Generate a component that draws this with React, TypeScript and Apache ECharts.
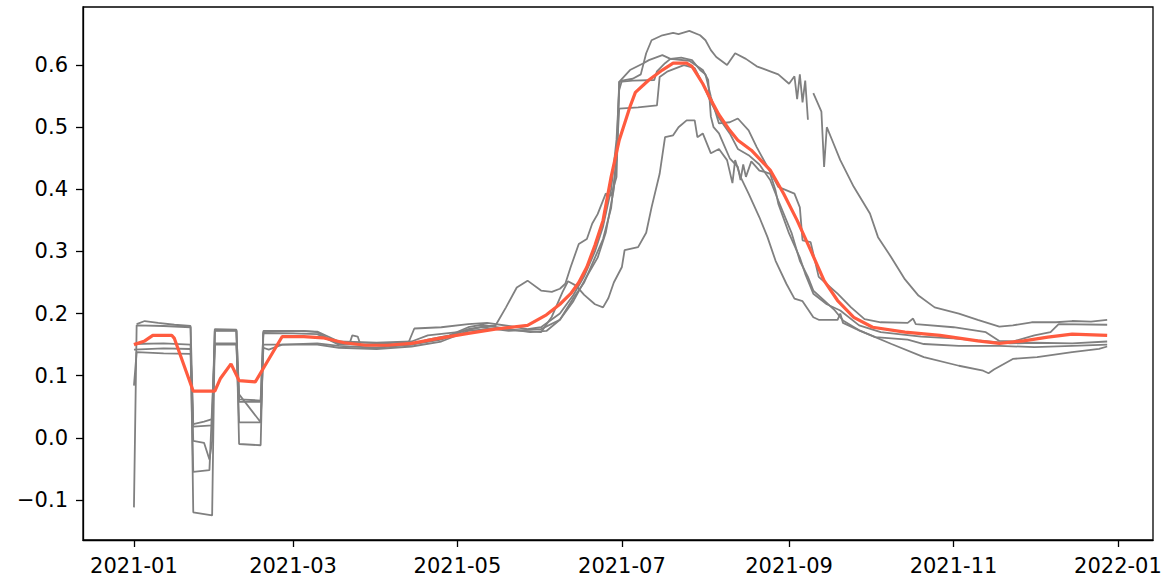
import React, { useEffect, useRef } from 'react';
import * as echarts from 'echarts';

const xTickLabels = ['2021-01', '2021-03', '2021-05', '2021-07', '2021-09', '2021-11', '2022-01'];
const yTicks = [-0.1, 0.0, 0.1, 0.2, 0.3, 0.4, 0.5, 0.6];

const lineA: [string, number | null][] = [
  ['2021-01-02', 0.183], ['2021-01-05', 0.188], ['2021-01-10', 0.185], ['2021-01-16', 0.182], ['2021-01-22', 0.180],
  ['2021-01-23', 0.022], ['2021-01-27', 0.026], ['2021-01-30', 0.030],
  ['2021-01-31', 0.175], ['2021-02-08', 0.174],
  ['2021-02-09', 0.062], ['2021-02-17', 0.060],
  ['2021-02-18', 0.170], ['2021-02-24', 0.171], ['2021-03-05', 0.172], ['2021-03-10', 0.170], ['2021-03-14', 0.160],
  ['2021-03-18', 0.152], ['2021-03-25', 0.150], ['2021-04-05', 0.152], ['2021-04-13', 0.155], ['2021-04-15', 0.176],
  ['2021-04-25', 0.178], ['2021-05-05', 0.183], ['2021-05-12', 0.185], ['2021-05-20', 0.180], ['2021-05-27', 0.175],
  ['2021-06-01', 0.178], ['2021-06-08', 0.200], ['2021-06-13', 0.230], ['2021-06-17', 0.260], ['2021-06-21', 0.300],
  ['2021-06-24', 0.340], ['2021-06-27', 0.400], ['2021-06-29', 0.480], ['2021-06-30', 0.560], ['2021-07-01', 0.575],
  ['2021-07-05', 0.578], ['2021-07-08', 0.585], ['2021-07-10', 0.619], ['2021-07-12', 0.640], ['2021-07-16', 0.648],
  ['2021-07-20', 0.652], ['2021-07-22', 0.650], ['2021-07-26', 0.655], ['2021-07-30', 0.648], ['2021-08-01', 0.640],
  ['2021-08-03', 0.624], ['2021-08-05', 0.613], ['2021-08-09', 0.600], ['2021-08-12', 0.619], ['2021-08-16', 0.610],
  ['2021-08-20', 0.598], ['2021-08-25', 0.590], ['2021-08-28', 0.585], ['2021-09-01', 0.570], ['2021-09-03', 0.582],
  ['2021-09-04', 0.545], ['2021-09-05', 0.585], ['2021-09-06', 0.540], ['2021-09-07', 0.575], ['2021-09-08', 0.512],
  ['2021-09-09', null], ['2021-09-10', 0.555], ['2021-09-12', 0.535], ['2021-09-13', 0.525], ['2021-09-14', 0.436],
  ['2021-09-15', 0.500], ['2021-09-17', 0.479], ['2021-09-20', 0.447], ['2021-09-25', 0.404], ['2021-10-01', 0.361],
  ['2021-10-04', 0.323], ['2021-10-09', 0.290], ['2021-10-14', 0.255], ['2021-10-19', 0.229], ['2021-10-25', 0.210],
  ['2021-11-03', 0.200], ['2021-11-10', 0.190], ['2021-11-18', 0.179], ['2021-11-23', 0.181], ['2021-11-30', 0.186],
  ['2021-12-09', 0.186], ['2021-12-15', 0.188], ['2021-12-22', 0.187], ['2021-12-28', 0.190],
];

const lineB: [string, number | null][] = [
  ['2021-01-01', -0.112], ['2021-01-02', 0.181], ['2021-01-12', 0.180], ['2021-01-22', 0.178],
  ['2021-01-23', -0.120], ['2021-01-30', -0.125],
  ['2021-01-31', 0.173], ['2021-02-08', 0.173],
  ['2021-02-09', -0.010], ['2021-02-17', -0.012],
  ['2021-02-18', 0.168], ['2021-03-01', 0.168], ['2021-03-10', 0.167], ['2021-03-18', 0.150], ['2021-03-22', 0.152],
  ['2021-03-23', 0.165], ['2021-03-25', 0.163], ['2021-03-26', 0.150], ['2021-04-05', 0.148], ['2021-04-14', 0.150],
  ['2021-04-20', 0.158], ['2021-04-28', 0.165], ['2021-05-05', 0.178], ['2021-05-10', 0.182], ['2021-05-20', 0.175],
  ['2021-05-28', 0.170], ['2021-06-03', 0.172], ['2021-06-08', 0.190], ['2021-06-13', 0.225], ['2021-06-17', 0.250],
  ['2021-06-20', 0.280], ['2021-06-24', 0.320], ['2021-06-27', 0.370], ['2021-06-29', 0.450], ['2021-06-30', 0.573],
  ['2021-07-04', 0.592], ['2021-07-09', 0.603], ['2021-07-11', 0.608], ['2021-07-16', 0.616], ['2021-07-19', 0.610],
  ['2021-07-23', 0.612], ['2021-07-27', 0.608], ['2021-07-30', 0.592], ['2021-08-01', 0.585], ['2021-08-03', 0.549],
  ['2021-08-06', 0.506], ['2021-08-10', 0.508], ['2021-08-13', 0.514], ['2021-08-17', 0.495], ['2021-08-20', 0.468],
  ['2021-08-24', 0.436], ['2021-08-28', 0.404], ['2021-09-03', 0.393], ['2021-09-05', 0.371], ['2021-09-06', 0.318],
  ['2021-09-09', 0.315], ['2021-09-12', 0.259], ['2021-09-19', 0.232], ['2021-09-24', 0.210], ['2021-09-29', 0.191],
  ['2021-10-05', 0.186], ['2021-10-15', 0.185], ['2021-10-17', 0.192], ['2021-10-18', 0.183], ['2021-11-01', 0.178],
  ['2021-11-13', 0.170], ['2021-11-18', 0.156], ['2021-11-23', 0.155], ['2021-12-01', 0.165], ['2021-12-07', 0.170],
  ['2021-12-10', 0.183], ['2021-12-28', 0.182],
];

const lineC: [string, number | null][] = [
  ['2021-01-01', 0.151], ['2021-01-12', 0.152], ['2021-01-22', 0.150],
  ['2021-01-23', -0.005], ['2021-01-27', -0.008], ['2021-01-29', -0.035], ['2021-01-30', -0.005],
  ['2021-01-31', 0.172], ['2021-02-08', 0.172],
  ['2021-02-09', 0.070], ['2021-02-17', 0.025],
  ['2021-02-18', 0.145], ['2021-02-20', 0.142], ['2021-02-25', 0.150], ['2021-03-10', 0.152], ['2021-03-18', 0.148],
  ['2021-04-01', 0.145], ['2021-04-14', 0.150], ['2021-04-25', 0.158], ['2021-05-05', 0.175], ['2021-05-12', 0.180],
  ['2021-05-15', 0.180], ['2021-05-19', 0.210], ['2021-05-23', 0.242], ['2021-05-27', 0.253], ['2021-06-01', 0.237],
  ['2021-06-05', 0.235], ['2021-06-08', 0.240], ['2021-06-10', 0.248], ['2021-06-12', 0.275], ['2021-06-15', 0.312],
  ['2021-06-18', 0.320], ['2021-06-20', 0.345], ['2021-06-22', 0.360], ['2021-06-25', 0.393], ['2021-06-27', 0.390],
  ['2021-06-29', 0.420], ['2021-06-30', 0.573], ['2021-07-05', 0.575], ['2021-07-13', 0.576], ['2021-07-14', 0.590],
  ['2021-07-17', 0.603], ['2021-07-19', 0.610], ['2021-07-26', 0.607], ['2021-07-31', 0.592], ['2021-08-02', 0.576],
  ['2021-08-03', 0.517], ['2021-08-04', 0.500], ['2021-08-06', 0.490], ['2021-08-08', 0.470], ['2021-08-10', 0.450],
  ['2021-08-13', 0.436], ['2021-08-14', 0.415], ['2021-08-15', 0.440], ['2021-08-16', 0.420], ['2021-08-18', 0.445],
  ['2021-08-21', 0.430], ['2021-08-23', 0.428], ['2021-08-25', 0.425], ['2021-08-27', 0.398], ['2021-08-28', 0.377],
  ['2021-09-01', 0.329], ['2021-09-05', 0.290], ['2021-09-07', 0.264], ['2021-09-10', 0.232], ['2021-09-15', 0.215],
  ['2021-09-20', 0.205], ['2021-09-27', 0.181], ['2021-10-05', 0.170], ['2021-10-20', 0.163], ['2021-11-01', 0.160],
  ['2021-11-15', 0.155], ['2021-11-22', 0.152], ['2021-12-01', 0.153], ['2021-12-15', 0.152], ['2021-12-28', 0.155],
];

const lineD: [string, number | null][] = [
  ['2021-01-01', 0.084], ['2021-01-02', 0.138], ['2021-01-12', 0.136], ['2021-01-22', 0.135],
  ['2021-01-23', -0.055], ['2021-01-29', -0.052],
  ['2021-01-31', 0.152], ['2021-02-08', 0.152],
  ['2021-02-09', 0.025], ['2021-02-17', 0.025],
  ['2021-02-18', 0.150], ['2021-03-01', 0.150], ['2021-03-10', 0.150], ['2021-03-18', 0.145], ['2021-04-01', 0.143],
  ['2021-04-14', 0.147], ['2021-04-25', 0.155], ['2021-05-05', 0.172], ['2021-05-15', 0.176], ['2021-05-25', 0.172],
  ['2021-06-01', 0.170], ['2021-06-05', 0.195], ['2021-06-09', 0.235], ['2021-06-11', 0.252], ['2021-06-14', 0.245],
  ['2021-06-17', 0.230], ['2021-06-21', 0.215], ['2021-06-24', 0.210], ['2021-06-26', 0.225], ['2021-06-28', 0.250],
  ['2021-07-01', 0.275], ['2021-07-02', 0.302], ['2021-07-07', 0.307], ['2021-07-10', 0.330], ['2021-07-12', 0.371],
  ['2021-07-15', 0.425], ['2021-07-17', 0.484], ['2021-07-20', 0.487], ['2021-07-22', 0.500], ['2021-07-25', 0.511],
  ['2021-07-28', 0.511], ['2021-07-29', 0.484], ['2021-07-31', 0.490], ['2021-08-03', 0.458], ['2021-08-06', 0.465],
  ['2021-08-09', 0.447], ['2021-08-11', 0.410], ['2021-08-12', 0.447], ['2021-08-14', 0.420], ['2021-08-17', 0.393],
  ['2021-08-21', 0.355], ['2021-08-24', 0.323], ['2021-08-27', 0.285], ['2021-08-31', 0.248], ['2021-09-03', 0.224],
  ['2021-09-06', 0.220], ['2021-09-10', 0.194], ['2021-09-12', 0.190], ['2021-09-19', 0.190], ['2021-09-20', 0.200],
  ['2021-09-21', 0.185], ['2021-09-27', 0.173], ['2021-10-09', 0.151], ['2021-10-21', 0.130], ['2021-11-03', 0.116],
  ['2021-11-12', 0.108], ['2021-11-14', 0.104], ['2021-11-16', 0.110], ['2021-11-23', 0.127], ['2021-12-02', 0.130],
  ['2021-12-15', 0.138], ['2021-12-25', 0.143], ['2021-12-28', 0.147],
];

const lineE: [string, number | null][] = [
  ['2021-01-01', 0.142], ['2021-01-12', 0.144], ['2021-01-22', 0.143],
  ['2021-01-23', 0.018], ['2021-01-30', 0.020],
  ['2021-01-31', 0.150], ['2021-02-08', 0.150],
  ['2021-02-09', 0.058], ['2021-02-17', 0.058],
  ['2021-02-18', 0.172], ['2021-03-01', 0.172], ['2021-03-10', 0.171], ['2021-03-18', 0.155], ['2021-04-01', 0.153],
  ['2021-04-14', 0.155], ['2021-04-20', 0.165], ['2021-05-01', 0.170], ['2021-05-10', 0.178], ['2021-05-20', 0.172],
  ['2021-06-01', 0.175], ['2021-06-08', 0.190], ['2021-06-13', 0.220], ['2021-06-18', 0.260], ['2021-06-22', 0.290],
  ['2021-06-25', 0.330], ['2021-06-28', 0.400], ['2021-06-29', 0.450], ['2021-06-30', 0.530], ['2021-07-07', 0.532],
  ['2021-07-14', 0.535], ['2021-07-15', 0.581], ['2021-07-18', 0.590], ['2021-07-24', 0.600], ['2021-07-28', 0.595],
  ['2021-07-31', 0.570], ['2021-08-03', 0.540], ['2021-08-06', 0.515], ['2021-08-10', 0.490], ['2021-08-13', 0.465],
  ['2021-08-17', 0.455], ['2021-08-21', 0.440], ['2021-08-25', 0.415], ['2021-08-28', 0.382], ['2021-09-02', 0.329],
  ['2021-09-05', 0.285], ['2021-09-08', 0.259], ['2021-09-10', 0.237], ['2021-09-14', 0.221], ['2021-09-18', 0.205],
  ['2021-09-21', 0.189], ['2021-09-27', 0.173], ['2021-10-03', 0.162], ['2021-10-15', 0.158], ['2021-10-21', 0.151],
  ['2021-11-03', 0.148], ['2021-11-18', 0.148], ['2021-12-01', 0.146], ['2021-12-15', 0.148], ['2021-12-28', 0.150],
];

const meanLine: [string, number | null][] = [
  ['2021-01-01', 0.150], ['2021-01-05', 0.156], ['2021-01-08', 0.165], ['2021-01-15', 0.165], ['2021-01-16', 0.160],
  ['2021-01-23', 0.075], ['2021-01-31', 0.075], ['2021-02-02', 0.095], ['2021-02-06', 0.119], ['2021-02-09', 0.092],
  ['2021-02-15', 0.090], ['2021-02-25', 0.163], ['2021-03-05', 0.163], ['2021-03-12', 0.161], ['2021-03-20', 0.153],
  ['2021-03-28', 0.149], ['2021-04-05', 0.149], ['2021-04-14', 0.152], ['2021-04-24', 0.160], ['2021-05-05', 0.168],
  ['2021-05-15', 0.175], ['2021-05-27', 0.181], ['2021-06-03', 0.198], ['2021-06-08', 0.215], ['2021-06-12', 0.232],
  ['2021-06-15', 0.250], ['2021-06-18', 0.275], ['2021-06-21', 0.310], ['2021-06-24', 0.350], ['2021-06-27', 0.420],
  ['2021-06-30', 0.479], ['2021-07-04', 0.533], ['2021-07-06', 0.556], ['2021-07-11', 0.576], ['2021-07-16', 0.592],
  ['2021-07-20', 0.603], ['2021-07-25', 0.603], ['2021-07-27', 0.598], ['2021-07-31', 0.570], ['2021-08-03', 0.544],
  ['2021-08-06', 0.520], ['2021-08-10', 0.495], ['2021-08-13', 0.479], ['2021-08-18', 0.463], ['2021-08-25', 0.431],
  ['2021-08-30', 0.393], ['2021-09-04', 0.350], ['2021-09-09', 0.302], ['2021-09-14', 0.253], ['2021-09-19', 0.221],
  ['2021-09-25', 0.194], ['2021-10-02', 0.178], ['2021-10-14', 0.170], ['2021-10-27', 0.165], ['2021-11-10', 0.156],
  ['2021-11-18', 0.152], ['2021-11-27', 0.156], ['2021-12-06', 0.162], ['2021-12-15', 0.167], ['2021-12-28', 0.165],
];

const grayLines = [lineA, lineB, lineC, lineD, lineE];

const DAY = 86400000;
const ORIGIN = Date.UTC(2021, 0, 1);
function dayNum(s: string): number {
  const [y, m, d] = s.split('-').map(Number);
  return (Date.UTC(y, m - 1, d || 1) - ORIGIN) / DAY;
}
function toXY(arr: [string, number | null][]) {
  return arr.map(([d, v]) => [dayNum(d), v === null ? '-' : v]);
}

export default function App() {
  const ref = useRef<HTMLDivElement>(null);
  useEffect(() => {
    if (!ref.current) return;
    const chart = echarts.init(ref.current, null, { renderer: 'svg' });
    const xTickDays = xTickLabels.map((l) => dayNum(l + '-01'));
    const font = { fontFamily: 'DejaVu Sans', fontSize: 21, color: '#000' };
    const axisLine = { show: true, onZero: false, lineStyle: { color: '#000', width: 1.3 } };
    chart.setOption({
      animation: false,
      backgroundColor: '#fff',
      grid: { left: 83, right: 16, top: 7, bottom: 46, show: true, borderColor: '#000', borderWidth: 1.3, backgroundColor: 'transparent' },
      xAxis: {
        type: 'value',
        min: -18.9,
        max: 378,
        axisLine,
        splitLine: { show: false },
        axisTick: { show: true, inside: false, length: 7, customValues: xTickDays, lineStyle: { color: '#000', width: 1.3 } },
        axisLabel: {
          ...font,
          margin: 15,
          customValues: xTickDays,
          formatter: (v: number) => {
            const i = xTickDays.findIndex((t) => Math.abs(t - v) < 0.5);
            return i >= 0 ? xTickLabels[i] : '';
          },
        },
      },
      yAxis: {
        type: 'value',
        min: -0.1645,
        max: 0.6935,
        axisLine,
        splitLine: { show: false },
        axisTick: { show: true, inside: false, length: 7, customValues: yTicks, lineStyle: { color: '#000', width: 1.3 } },
        axisLabel: {
          ...font,
          margin: 15,
          customValues: yTicks,
          formatter: (v: number) => {
            const r = Math.round(v * 10) / 10;
            return r < 0 ? '\u2212' + Math.abs(r).toFixed(1) : r.toFixed(1);
          },
        },
      },
      series: [
        ...grayLines.map((l) => ({
          type: 'line',
          data: toXY(l),
          showSymbol: false,
          symbol: 'none',
          connectNulls: false,
          lineStyle: { color: '#808080', width: 1.8 },
          z: 2,
        })),
        {
          type: 'line',
          data: toXY(meanLine),
          showSymbol: false,
          symbol: 'none',
          lineStyle: { color: '#FF5B3F', width: 3.2 },
          z: 3,
        },
      ],
    });
    return () => chart.dispose();
  }, []);
  return <div ref={ref} style={{ position: 'absolute', left: 0, top: 0, width: 1169, height: 586 }} />;
}
